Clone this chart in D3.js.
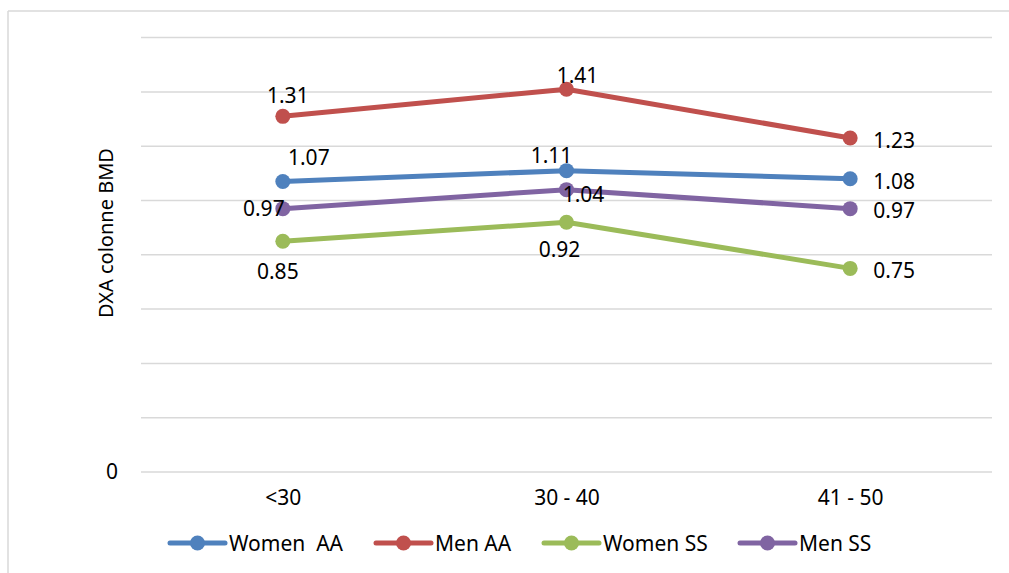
<!DOCTYPE html>
<html>
<head>
<meta charset="utf-8">
<script src="https://cdn.jsdelivr.net/npm/d3@7"></script>
<style>
  html, body { margin: 0; padding: 0; background: #fff; }
  svg { display: block; font-family: "Noto Sans", "DejaVu Sans", sans-serif; }
</style>
</head>
<body>
<svg id="chart" width="1009" height="573"></svg>
<script>
// Age groups on the x axis
const categories = ["<30", "30 - 40", "41 - 50"];

// Series names and BMD values per age group
const seriesNames = ["Women  AA", "Men AA", "Women SS", "Men SS"];
const womenAA = [1.07, 1.11, 1.08];
const menAA   = [1.31, 1.41, 1.23];
const womenSS = [0.85, 0.92, 0.75];
const menSS   = [0.97, 1.04, 0.97];

// Y axis ticks (only the zero tick carries a label)
const yTicks = [0, 0.2, 0.4, 0.6, 0.8, 1.0, 1.2, 1.4, 1.6];
const yTickLabels = ["0", "", "", "", "", "", "", "", ""];

const colors = ["#4f81bd", "#c0504d", "#9bbb59", "#8064a2"];

// Per-label nudges (dx, dy) away from each point, so labels don't collide
const labelOffsets = [
  [[26, -24], [-15, -16], [44, 2]],
  [[5, -21], [11, -14], [44, 2]],
  [[-5, 30], [-7, 27], [44, 2]],
  [[-19, -1], [17, 4], [44, 1]]
];

const series = [womenAA, menAA, womenSS, menSS].map((vals, i) => ({
  name: seriesNames[i], values: vals, color: colors[i], offsets: labelOffsets[i]
}));

const svg = d3.select("#chart");

// Outer chart frame (top and left edges)
svg.append("line").attr("x1", 8).attr("x2", 1009).attr("y1", 11).attr("y2", 11)
  .attr("stroke", "#d9d9d9").attr("stroke-width", 1.5);
svg.append("line").attr("x1", 8).attr("x2", 8).attr("y1", 11).attr("y2", 573)
  .attr("stroke", "#d9d9d9").attr("stroke-width", 1.5);

const plot = { left: 141, right: 992, top: 37.6, bottom: 472 };

const x = d3.scalePoint().domain(categories).range([plot.left, plot.right]).padding(0.5);
const y = d3.scaleLinear().domain([0, 1.6]).range([plot.bottom, plot.top]);

// Horizontal gridlines
svg.append("g").selectAll("line").data(yTicks).join("line")
  .attr("x1", plot.left).attr("x2", plot.right)
  .attr("y1", d => y(d)).attr("y2", d => y(d))
  .attr("stroke", "#d9d9d9").attr("stroke-width", 1.5);

// Y axis tick labels
const yAxis = d3.axisLeft(y).tickValues(yTicks)
  .tickFormat((d, i) => yTickLabels[i]).tickSize(0).tickPadding(0);
svg.append("g").attr("transform", `translate(${plot.left - 23},0)`).call(yAxis)
  .call(g => g.select(".domain").remove())
  .call(g => g.selectAll("text").attr("font-size", 21).attr("fill", "#000")
    .attr("font-family", "'Noto Sans', sans-serif"));

// X axis category labels
const xAxis = d3.axisBottom(x).tickSize(0).tickPadding(0);
svg.append("g").attr("transform", `translate(0,${plot.bottom + 18})`).call(xAxis)
  .call(g => g.select(".domain").remove())
  .call(g => g.selectAll("text").attr("font-size", 21).attr("fill", "#000")
    .attr("font-family", "'Noto Sans', sans-serif"));

// Y axis title
svg.append("text")
  .attr("transform", "translate(105,233) rotate(-90)")
  .attr("text-anchor", "middle").attr("dominant-baseline", "central")
  .attr("font-size", 20).attr("fill", "#000")
  .text("DXA colonne BMD");

// Lines and markers
const line = d3.line().x((d, i) => x(categories[i])).y(d => y(d));

const gSeries = svg.append("g").selectAll("g").data(series).join("g");
gSeries.append("path")
  .attr("d", d => line(d.values))
  .attr("fill", "none").attr("stroke", d => d.color)
  .attr("stroke-width", 5).attr("stroke-linejoin", "round").attr("stroke-linecap", "round");
gSeries.selectAll("circle").data(d => d.values.map((v, i) => ({ v, i, color: d.color })))
  .join("circle")
  .attr("cx", d => x(categories[d.i])).attr("cy", d => y(d.v))
  .attr("r", 7.5).attr("fill", d => d.color);

// Data labels
gSeries.selectAll("text").data(d => d.values.map((v, i) => ({ v, i, off: d.offsets[i] })))
  .join("text")
  .attr("x", d => x(categories[d.i]) + d.off[0])
  .attr("y", d => y(d.v) + d.off[1])
  .attr("text-anchor", "middle").attr("dominant-baseline", "central")
  .attr("font-size", 21).attr("fill", "#000")
  .text(d => d3.format(".2f")(d.v));

// Legend
const legendX = [170, 376, 544, 740];
const legendY = 543;
const legend = svg.append("g").selectAll("g").data(series).join("g")
  .attr("transform", (d, i) => `translate(${legendX[i]},${legendY})`);
legend.append("line").attr("x1", 0).attr("x2", 55).attr("y1", 0).attr("y2", 0)
  .attr("stroke", d => d.color).attr("stroke-width", 5).attr("stroke-linecap", "round");
legend.append("circle").attr("cx", 27.5).attr("cy", 0).attr("r", 7.5).attr("fill", d => d.color);
legend.append("text").attr("x", 59).attr("y", 0)
  .attr("dominant-baseline", "central").attr("font-size", 21).attr("fill", "#000")
  .attr("xml:space", "preserve").style("white-space", "pre")
  .text(d => d.name);
</script>
</body>
</html>
